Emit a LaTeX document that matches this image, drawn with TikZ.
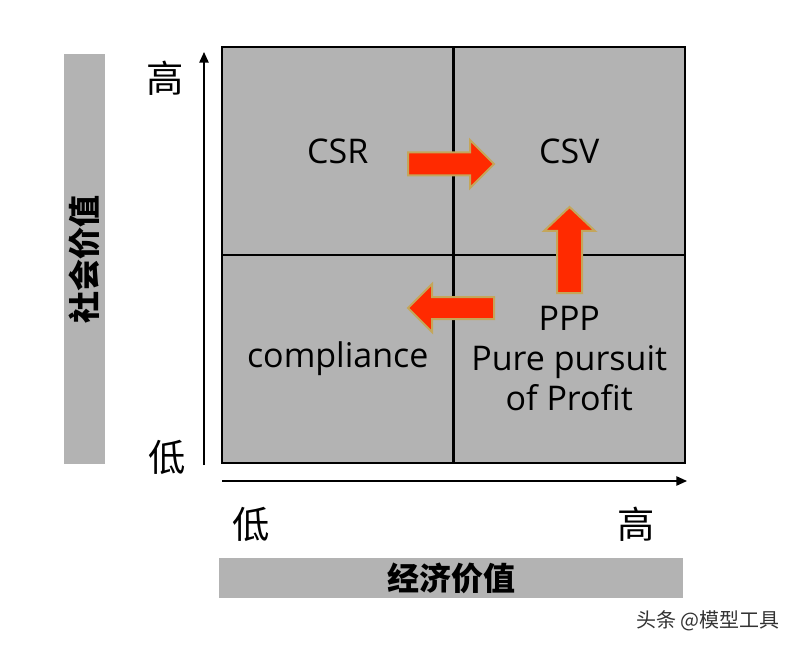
\documentclass[tikz,border=0pt]{standalone}
\usepackage{fontspec}
\setmainfont{Open Sans}
\newfontfamily\cjk{Noto Sans CJK SC}
\usetikzlibrary{arrows.meta}
\definecolor{quadgray}{HTML}{B3B3B3}
\definecolor{arrowred}{HTML}{FF2A00}
\definecolor{arrowtan}{HTML}{C4A65A}
\tikzset{
  quad/.style={draw, fill=quadgray, line width=1.5pt, minimum width=173.6pt,
    minimum height=156pt, inner sep=0pt, align=center,
    font=\fontsize{25.5}{30}\selectfont},
  bar/.style={fill=quadgray, inner sep=0pt, font=\cjk\bfseries\fontsize{24}{28}\selectfont},
  level/.style={inner sep=0pt, font=\cjk\fontsize{28}{32}\selectfont},
  axis/.style={line width=1.2pt, -{Triangle[length=8pt,width=7pt]}},
  bigarrow/.style={fill=arrowred, draw=arrowtan, line width=1.5pt, line join=miter},
}
\begin{document}
\begin{tikzpicture}[x=0.75pt, y=-0.75pt]
  \useasboundingbox[fill=white] (0,0) rectangle (798,648);
  % quadrants
  \node[quad] (csr) at (337.75,151) {CSR};
  \node[quad] (csv) at (569.25,151) {CSV};
  \node[quad] (comp) at (337.75,359) {compliance};
  \node[quad] (ppp) at (569.25,359) {PPP\\Pure pursuit\\of Profit};
  % axes
  \coordinate (ybot) at (204,465);
  \coordinate (ytop) at (204,52);
  \coordinate (xleft) at (222,481);
  \coordinate (xright) at (687,481);
  \draw[axis] (ybot) -- (ytop);
  \draw[axis] (xleft) -- (xright);
  \node[level] (yhigh) at (165,78) {高};
  \node[level] (ylow) at (167,457) {低};
  \node[level] (xlow) at (251,524) {低};
  \node[level] (xhigh) at (636,524) {高};
  % axis titles
  \node[bar, rotate=90, minimum width=307.5pt, minimum height=30.75pt] (social) at (84.5,259) {社会价值};
  \node[bar, minimum width=348pt, minimum height=30pt] (econ) at (451,578) {经济价值};
  % block arrows
  \draw[bigarrow] (408,152.5) -- (470,152.5) -- (470,140) -- (494,164)
    -- (470,188) -- (470,175.5) -- (408,175.5) -- cycle;
  \draw[bigarrow] (557,293) -- (557,231) -- (544,231) -- (569.5,207)
    -- (595,231) -- (582,231) -- (582,293) -- cycle;
  \draw[bigarrow] (494,297) -- (432,297) -- (432,284) -- (408,308)
    -- (432,332) -- (432,319) -- (494,319) -- cycle;
  % watermark
  \node[font=\cjk\fontsize{15}{17}\selectfont, text=black!80] (mark) at (708,621) {头条 @模型工具};
\end{tikzpicture}
\end{document}
